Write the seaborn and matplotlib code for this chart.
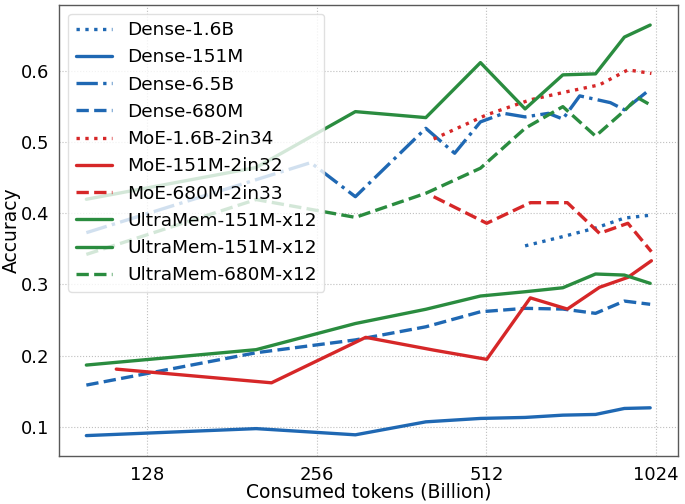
import matplotlib
matplotlib.use("Agg")
import matplotlib.pyplot as plt
import matplotlib.ticker as mticker
import seaborn as sns

# token counts (Billion)
x_std = [100, 200, 300, 400, 500, 600, 700, 800, 900, 1000]
x_moe = [113, 213, 313, 413, 513, 613, 713, 813, 913, 1005]
x_d16 = [600, 700, 800, 900, 1000]
x_d65 = [100, 250, 300, 400, 450, 500, 550, 600, 660, 700, 750, 850, 900, 1000]
x_m16 = [413, 513, 613, 713, 813, 913, 1005]
x_m680 = [413, 513, 613, 713, 813, 913, 1005]
x_u680 = [100, 200, 300, 400, 500, 600, 700, 800, 900, 950, 1000]

# accuracy values
dense_16b = [0.354, 0.367, 0.379, 0.393, 0.397]
dense_151m = [0.0877, 0.0975, 0.0888, 0.107, 0.1118, 0.1132, 0.1164, 0.1174, 0.1258, 0.1267]
dense_65b = [0.3725, 0.4708, 0.423, 0.519, 0.484, 0.528, 0.540, 0.535, 0.540, 0.532,
             0.5645, 0.555, 0.545, 0.5738]
dense_680m = [0.1586, 0.204, 0.222, 0.2404, 0.2615, 0.2663, 0.2653, 0.2593, 0.2765, 0.272]
moe_16b = [0.504, 0.538, 0.559, 0.5705, 0.580, 0.601, 0.596]
moe_151m = [0.181, 0.1618, 0.2256, 0.2077, 0.1947, 0.281, 0.2653, 0.2958, 0.3098, 0.3331]
moe_680m = [0.423, 0.3857, 0.4146, 0.4146, 0.3716, 0.3857, 0.3458]
ultra_151m_a = [0.4194, 0.4639, 0.5424, 0.534, 0.6112, 0.5462, 0.594, 0.5954, 0.647, 0.6639]
ultra_151m_b = [0.1867, 0.2083, 0.245, 0.265, 0.2836, 0.2896, 0.2952, 0.3145, 0.313, 0.3014]
ultra_680m = [0.342, 0.419, 0.394, 0.4278, 0.463, 0.519, 0.5494, 0.508, 0.5436, 0.562, 0.552]

blue = "#1f68b3"
red = "#d62728"
green = "#2a8c3f"

series = [
    ("Dense-1.6B", x_d16, dense_16b, blue, ":"),
    ("Dense-151M", x_std, dense_151m, blue, "-"),
    ("Dense-6.5B", x_d65, dense_65b, blue, "-."),
    ("Dense-680M", x_std, dense_680m, blue, "--"),
    ("MoE-1.6B-2in34", x_m16, moe_16b, red, ":"),
    ("MoE-151M-2in32", x_moe, moe_151m, red, "-"),
    ("MoE-680M-2in33", x_m680, moe_680m, red, "--"),
    ("UltraMem-151M-x12", x_std, ultra_151m_a, green, "-"),
    ("UltraMem-151M-x12", x_std, ultra_151m_b, green, "-"),
    ("UltraMem-680M-x12", x_u680, ultra_680m, green, "--"),
]

sns.set_style("whitegrid", {
    "grid.linestyle": ":",
    "grid.color": "0.75",
    "axes.edgecolor": "0.35",
    "text.color": "black",
    "axes.labelcolor": "black",
    "xtick.color": "black",
    "ytick.color": "black",
})
plt.rcParams["font.family"] = ["DejaVu Sans"]

fig, ax = plt.subplots(figsize=(6.85, 5.04), dpi=100)
fig.subplots_adjust(left=0.086, right=0.99, top=0.991, bottom=0.095)

for name, xs, ys, col, ls in series:
    sns.lineplot(x=xs, y=ys, ax=ax, label=name, color=col, linestyle=ls,
                 linewidth=2.4, sort=False)

ax.set_xscale("log", base=2)
ax.set_xlim(89.4, 1121)
ax.set_ylim(0.0589, 0.6927)
ax.xaxis.set_major_locator(mticker.FixedLocator([128, 256, 512, 1024]))
ax.xaxis.set_major_formatter(mticker.FixedFormatter(["128", "256", "512", "1024"]))
ax.xaxis.set_minor_locator(mticker.NullLocator())
ax.set_yticks([0.1, 0.2, 0.3, 0.4, 0.5, 0.6])
ax.tick_params(labelsize=13)
ax.set_xlabel("Consumed tokens (Billion)", fontsize=13.5, labelpad=-1)
ax.set_ylabel("Accuracy", fontsize=13.5, labelpad=0)
for s in ax.spines.values():
    s.set_linewidth(1.0)

ax.legend(loc="upper left", fontsize=13.3, labelspacing=0.5, framealpha=0.8,
          edgecolor="0.85")

fig.savefig("out.png", dpi=100)
